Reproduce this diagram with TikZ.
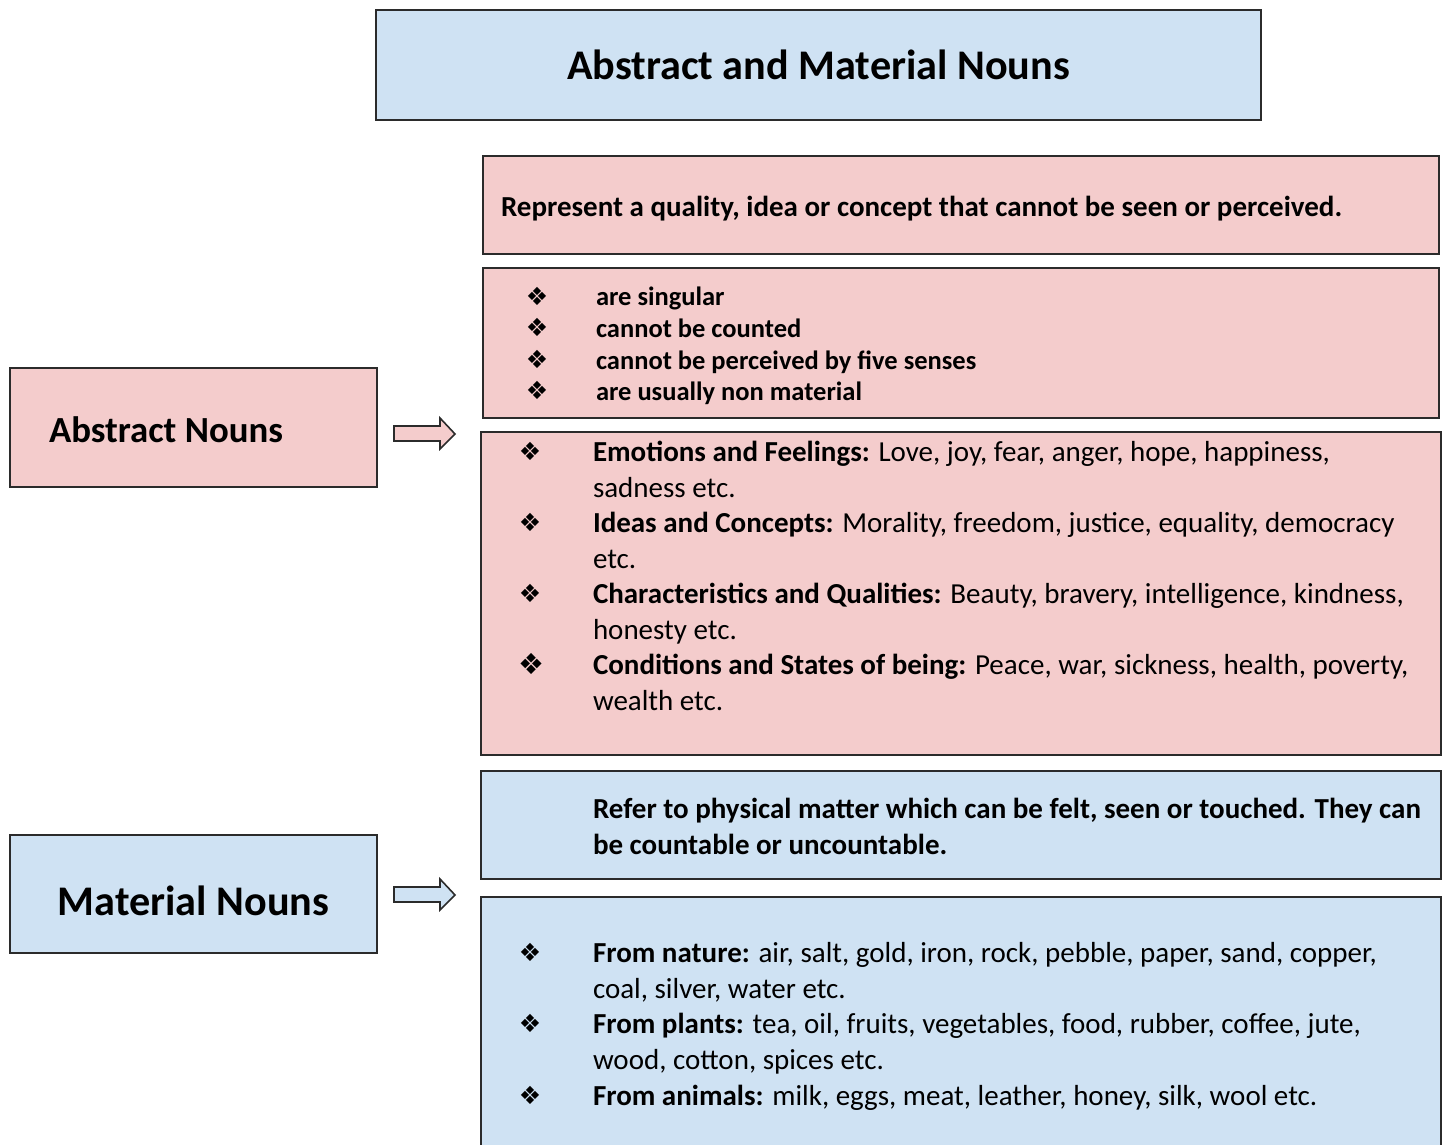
\documentclass[tikz,border=0pt]{standalone}
\usepackage{fontspec}
\setmainfont{Carlito}
\newfontfamily\symfont{DejaVu Sans}
\definecolor{pinkfill}{HTML}{F4CCCC}
\definecolor{bluefill}{HTML}{CFE2F3}
\definecolor{edge}{HTML}{2B2B2B}
\newcommand{\bodyfont}{\fontsize{29}{35.5}\selectfont}
\newcommand{\smallbody}{\fontsize{26.5}{31.7}\selectfont}
\newcommand{\bul}{{\symfont ❖}}
\begin{document}
\begin{tikzpicture}[x=1pt,y=-1pt,
  box/.style={draw=edge, line width=1.6pt, inner sep=0pt, outer sep=0pt, anchor=north west},
  blockarrow/.style={draw=edge, line width=1.6pt, line join=miter},
  line/.style={anchor=base west, inner sep=0pt, outer sep=0pt},
  bulletmark/.style={anchor=center, inner sep=0pt, outer sep=0pt, font=\fontsize{25}{25}\selectfont},
  bigbullet/.style={anchor=center, inner sep=0pt, outer sep=0pt, font=\fontsize{29}{29}\selectfont}]
\path[use as bounding box, clip] (0,0) rectangle (1447,1144);
\fill[white] (0,0) rectangle (1447,1144);

% title
\node[box, fill=bluefill, minimum width=885pt, minimum height=110pt,
  font=\bfseries\fontsize{42.2}{45}\selectfont] (title) at (376,10) {Abstract and Material Nouns};

% left boxes
\node[box, fill=pinkfill, minimum width=367pt, minimum height=119pt] (abs) at (10,368) {};
\node[line, font=\bfseries\fontsize{36.8}{40}\selectfont] (abstxt) at (49,442) {Abstract Nouns};
\node[box, fill=bluefill, minimum width=367pt, minimum height=118pt] (mat) at (10,835) {};
\node[anchor=base, inner sep=0pt, font=\bfseries\fontsize{42.2}{45}\selectfont] (mattxt) at (193.5,915) {Material Nouns};

% block arrows
\draw[blockarrow, fill=pinkfill] (394,426) -- (440,426) -- (440,418) -- (455,434)
  -- (440,449) -- (440,441) -- (394,441) -- cycle;
\draw[blockarrow, fill=bluefill] (394,887) -- (440,887) -- (440,879) -- (455,895)
  -- (440,910) -- (440,902) -- (394,902) -- cycle;

% abstract boxes
\node[box, fill=pinkfill, minimum width=956pt, minimum height=98pt] (a1) at (483,156) {};
\node[box, fill=pinkfill, minimum width=956pt, minimum height=150pt] (a2) at (483,268) {};
\node[box, fill=pinkfill, minimum width=960pt, minimum height=323pt] (a3) at (481,432) {};

% material boxes
\node[box, fill=bluefill, minimum width=960pt, minimum height=108pt] (m1) at (481,771) {};
\node[box, fill=bluefill, minimum width=960pt, minimum height=280pt] (m2) at (481,897) {};

% box a1 text
\node[line, font=\bfseries\bodyfont] (a1l1) at (501,216) {Represent a quality, idea or concept that cannot be seen or perceived.};

% box a2 text
\node[bulletmark] (a2b1) at (537,296) {\bul};
\node[bulletmark] (a2b2) at (537,327) {\bul};
\node[bulletmark] (a2b3) at (537,359) {\bul};
\node[bulletmark] (a2b4) at (537,390) {\bul};
\node[line, font=\bfseries\smallbody] (a2l1) at (596,305) {are singular};
\node[line, font=\bfseries\smallbody] (a2l2) at (596,337) {cannot be counted};
\node[line, font=\bfseries\smallbody] (a2l3) at (596,369) {cannot be perceived by five senses};
\node[line, font=\bfseries\smallbody] (a2l4) at (596,400) {are usually non material};

% box a3 text
\node[bulletmark] (a3b1) at (530,451) {\bul};
\node[bulletmark] (a3b2) at (530,522) {\bul};
\node[bulletmark] (a3b3) at (530,593) {\bul};
\node[bigbullet] (a3b4) at (531,664) {\bul};
\node[line, font=\bodyfont] (a3l1) at (593,461) {\textbf{Emotions and Feelings:} Love, joy, fear, anger, hope, happiness,};
\node[line, font=\bodyfont] (a3l2) at (593,497) {sadness etc.};
\node[line, font=\bodyfont] (a3l3) at (593,532) {\textbf{Ideas and Concepts:} Morality, freedom, justice, equality, democracy};
\node[line, font=\bodyfont] (a3l4) at (593,568) {etc.};
\node[line, font=\bodyfont] (a3l5) at (593,603) {\textbf{Characteristics and Qualities:} Beauty, bravery, intelligence, kindness,};
\node[line, font=\bodyfont] (a3l6) at (593,639) {honesty etc.};
\node[line, font=\bodyfont] (a3l7) at (593,674) {\textbf{Conditions and States of being:} Peace, war, sickness, health, poverty,};
\node[line, font=\bodyfont] (a3l8) at (593,710) {wealth etc.};

% box m1 text
\node[line, font=\bfseries\bodyfont] (m1l1) at (593,818) {Refer to physical matter which can be felt, seen or touched. They can};
\node[line, font=\bfseries\bodyfont] (m1l2) at (593,854) {be countable or uncountable.};

% box m2 text
\node[bulletmark] (m2b1) at (530,952) {\bul};
\node[bulletmark] (m2b2) at (530,1023) {\bul};
\node[bulletmark] (m2b3) at (530,1095) {\bul};
\node[line, font=\bodyfont] (m2l1) at (593,962) {\textbf{From nature:} air, salt, gold, iron, rock, pebble, paper, sand, copper,};
\node[line, font=\bodyfont] (m2l2) at (593,998) {coal, silver, water etc.};
\node[line, font=\bodyfont] (m2l3) at (593,1033) {\textbf{From plants:} tea, oil, fruits, vegetables, food, rubber, coffee, jute,};
\node[line, font=\bodyfont] (m2l4) at (593,1069) {wood, cotton, spices etc.};
\node[line, font=\bodyfont] (m2l5) at (593,1105) {\textbf{From animals:} milk, eggs, meat, leather, honey, silk, wool etc.};
\end{tikzpicture}
\end{document}
